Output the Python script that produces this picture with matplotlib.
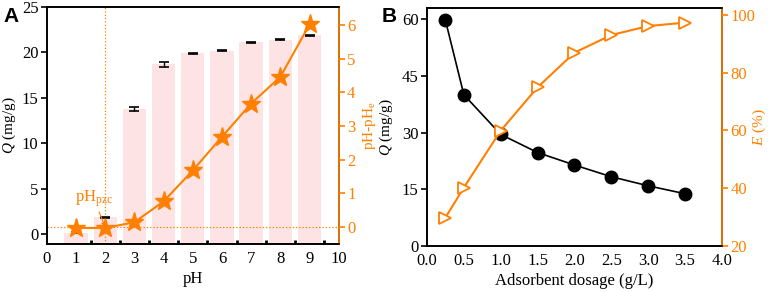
import matplotlib
matplotlib.use("Agg")
import matplotlib.pyplot as plt
import numpy as np

ORANGE = "#FF8000"
PINK = "#FDE3E3"

# Panel A data
ph = [1, 2, 3, 4, 5, 6, 7, 8, 9]
q_ph = [0.2, 1.9, 13.8, 18.7, 19.9, 20.2, 21.1, 21.4, 21.9]
q_err = [0.1, 0.05, 0.2, 0.3, 0.05, 0.08, 0.05, 0.05, 0.05]
dph = [-0.03, -0.03, 0.14, 0.76, 1.68, 2.68, 3.67, 4.46, 6.02]
ph_pzc = 2

# Panel B data
dosage = [0.25, 0.5, 1.0, 1.5, 2.0, 2.5, 3.0, 3.5]
q_dose = [59.7, 40.0, 29.5, 24.7, 21.4, 18.3, 15.9, 13.8]
removal = [29.8, 40.2, 59.9, 74.9, 86.9, 93.0, 96.1, 97.3]

plt.rcParams.update({
    "font.family": "serif",
    "font.serif": ["Liberation Serif", "DejaVu Serif"],
    "mathtext.fontset": "custom",
    "mathtext.rm": "Liberation Serif",
    "mathtext.it": "Liberation Serif:italic",
    "font.size": 12,
    "axes.labelsize": 11,
    "axes.linewidth": 1.2,
})

fig = plt.figure(figsize=(7.68, 2.92), dpi=100)
ax_a = fig.add_axes([0.061, 0.164, 0.380, 0.812])
ax_b = fig.add_axes([0.556, 0.158, 0.384, 0.815])

# ---- Panel A
ax_a.bar(ph, np.array(q_ph) + 1.07, bottom=-1.07, width=0.8, color=PINK, zorder=1)
ax_a.errorbar(ph, q_ph, yerr=q_err, fmt="none", ecolor="black", capsize=3.5,
              elinewidth=1, capthick=1.2, zorder=3)
ax_a.axvline(ph_pzc, color=ORANGE, linestyle=":", linewidth=0.9, zorder=2)
ax_a.set_xlim(0, 10)
ax_a.set_ylim(-1.07, 25)
ax_a.set_xticks(range(0, 11))
ax_a.set_xticks(np.arange(1.5, 10, 1), minor=True)
ax_a.tick_params(axis="x", which="major", length=0, pad=5)
ax_a.tick_params(axis="x", which="minor", direction="in", length=3, width=2)
ax_a.set_yticks(range(0, 26, 5))
ax_a.tick_params(axis="y", direction="out", length=4, width=1.2, pad=2)
ax_a.set_xlabel("pH", fontsize=12, labelpad=3)
ax_a.set_ylabel("$Q$ (mg/g)")
ax_a.yaxis.set_label_coords(-0.1, 0.5)

ax_a2 = ax_a.twinx()
ax_a2.plot(ph, dph, color=ORANGE, linewidth=1.5, marker="*", markersize=14,
           markeredgecolor=ORANGE, zorder=4)
ax_a2.axhline(0, color=ORANGE, linestyle=":", linewidth=0.9)
ax_a2.set_ylim(-0.51, 6.54)
ax_a2.set_yticks(range(0, 7))
ax_a2.tick_params(axis="y", colors=ORANGE, direction="out", length=4, width=1.2, pad=2)
ax_a2.spines["right"].set_color(ORANGE)
ax_a2.set_ylabel("pH-pH$_\\mathrm{e}$", color=ORANGE)
ax_a2.yaxis.set_label_coords(1.075, 0.5)
ax_a2.annotate("pH$_\\mathrm{pzc}$", xy=(ph_pzc, 0.0), xytext=(0.95, 0.75),
               color=ORANGE, fontsize=12,
               arrowprops=dict(arrowstyle="-|>", color=ORANGE, lw=0.8,
                               mutation_scale=6, shrinkA=0, shrinkB=0))

# ---- Panel B
ax_b.plot(dosage, q_dose, color="black", linewidth=1.2, marker="o", markersize=9,
          markeredgecolor="black", zorder=3)
ax_b.set_xlim(0, 4)
ax_b.set_ylim(0, 63)
ax_b.set_xticks(np.arange(0, 4.01, 0.5))
ax_b.set_yticks(range(0, 61, 15))
ax_b.tick_params(axis="x", length=0, pad=5)
ax_b.tick_params(axis="y", direction="out", length=4, width=1.2, pad=2)
ax_b.set_xlabel("Adsorbent dosage (g/L)", fontsize=12, labelpad=3)
ax_b.set_ylabel("$Q$ (mg/g)")
ax_b.yaxis.set_label_coords(-0.11, 0.5)

ax_b2 = ax_b.twinx()
ax_b2.plot(dosage, removal, color=ORANGE, linewidth=1.5, marker=">", markersize=8,
           markerfacecolor="white", markeredgecolor=ORANGE, markeredgewidth=1.3, zorder=3)
ax_b2.set_ylim(20, 102.4)
ax_b2.set_yticks(range(20, 101, 20))
ax_b2.tick_params(axis="y", colors=ORANGE, direction="out", length=4, width=1.2, pad=2)
ax_b2.spines["right"].set_color(ORANGE)
ax_b2.set_ylabel("$E$ (%)", color=ORANGE)
ax_b2.yaxis.set_label_coords(1.098, 0.5)

fig.text(0.005, 0.975, "A", fontsize=15, fontweight="bold", family="Liberation Sans", va="top")
fig.text(0.497, 0.975, "B", fontsize=15, fontweight="bold", family="Liberation Sans", va="top")

fig.savefig("out.png", dpi=100)
